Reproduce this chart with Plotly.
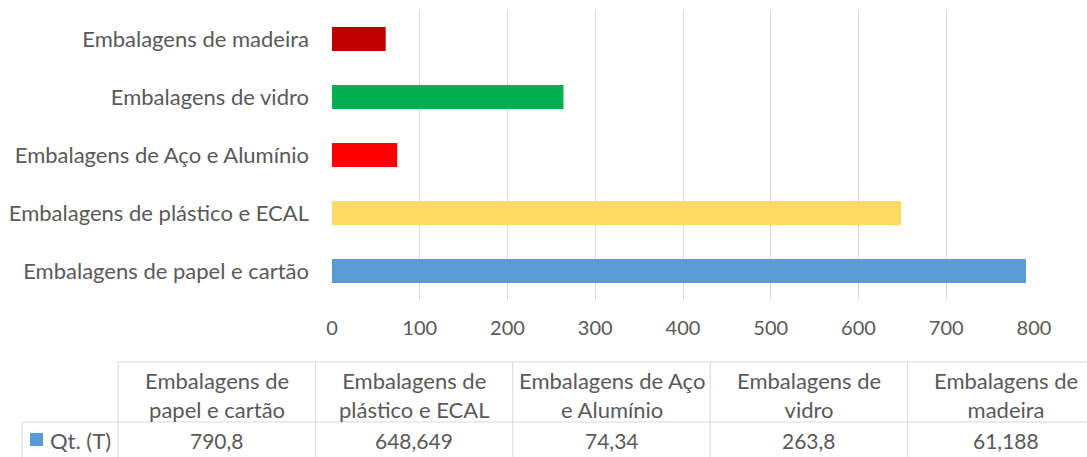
import plotly.graph_objects as go

# ---- data ----
categories = [
    "Embalagens de papel e cartão",
    "Embalagens de plástico e ECAL",
    "Embalagens de Aço e Alumínio",
    "Embalagens de vidro",
    "Embalagens de madeira",
]
values = [790.8, 648.649, 74.34, 263.8, 61.188]
value_labels = ["790,8", "648,649", "74,34", "263,8", "61,188"]
bar_colors = ["#5B9BD5", "#FFD966", "#FF0000", "#00B050", "#C00000"]
series_name = "Qt. (T)"
x_ticks = [0, 100, 200, 300, 400, 500, 600, 700, 800]

# ---- layout geometry (pixels) ----
W, H = 1087, 457
PL, PR, PT, PB = 332, 1034, 10, 300
FONT = "Lato"
TXT = "#595959"
GRID = "#D9D9D9"
FS_TEXT = 22
FS_NUM = 20
FS_TNUM = 21


def px(x):
    return (x - PL) / (PR - PL)


def py(y):
    return (PB - y) / (PB - PT)


def wrap(s, n=17):
    words, lines, cur = s.split(), [], ""
    for w in words:
        t = (cur + " " + w).strip()
        if len(t) <= n or not cur:
            cur = t
        else:
            lines.append(cur)
            cur = w
    lines.append(cur)
    return lines


fig = go.Figure(
    go.Bar(
        x=values,
        y=categories,
        orientation="h",
        marker=dict(color=bar_colors, line=dict(width=0)),
        width=0.41,
        name=series_name,
        showlegend=False,
    )
)

shapes = []
annotations = []

# data table
tbl_left = 118
col_w = 197.4
hdr_top = 362
row_mid = 422
row_bot = 470
key_left = 22

line = dict(color=GRID, width=1)


def hline(x0, x1, y):
    shapes.append(dict(type="line", xref="paper", yref="paper",
                       x0=px(x0), x1=px(x1), y0=py(y), y1=py(y), line=line))


def vline(x, y0, y1):
    shapes.append(dict(type="line", xref="paper", yref="paper",
                       x0=px(x), x1=px(x), y0=py(y0), y1=py(y1), line=line))


tbl_right = tbl_left + col_w * len(categories)
hline(tbl_left, tbl_right, hdr_top)
hline(key_left, tbl_right, row_mid)
vline(key_left, row_mid, row_bot)
for i in range(len(categories) + 1):
    vline(tbl_left + i * col_w, hdr_top, row_bot)

for i, (cat, lab) in enumerate(zip(categories, value_labels)):
    cx = tbl_left + (i + 0.5) * col_w
    annotations.append(dict(xref="paper", yref="paper", x=px(cx), y=py(395),
                            text="<br>".join(wrap(cat)), showarrow=False,
                            xanchor="center", yanchor="middle", align="center",
                            font=dict(family=FONT, size=FS_TEXT, color=TXT)))
    annotations.append(dict(xref="paper", yref="paper", x=px(cx), y=py(440),
                            text=lab, showarrow=False, xanchor="center",
                            yanchor="middle",
                            font=dict(family=FONT, size=FS_TNUM, color=TXT)))

# legend key
shapes.append(dict(type="rect", xref="paper", yref="paper",
                   x0=px(30), x1=px(43), y0=py(433), y1=py(446),
                   fillcolor=bar_colors[0], line=dict(width=0)))
annotations.append(dict(xref="paper", yref="paper", x=px(48), y=py(440),
                        text=series_name, showarrow=False, xanchor="left",
                        yanchor="middle",
                        font=dict(family=FONT, size=FS_TEXT, color=TXT)))

fig.update_layout(
    width=W,
    height=H,
    margin=dict(l=PL, r=W - PR, t=PT, b=H - PB, pad=0, autoexpand=False),
    paper_bgcolor="white",
    plot_bgcolor="white",
    font=dict(family=FONT, size=FS_TEXT, color=TXT),
    shapes=shapes,
    annotations=annotations,
    xaxis=dict(
        range=[0, 800],
        tickvals=x_ticks,
        showgrid=True,
        gridcolor=GRID,
        gridwidth=1,
        zeroline=False,
        showline=False,
        ticks="",
        ticklabelstandoff=14,
        tickfont=dict(family=FONT, size=FS_NUM, color=TXT),
        fixedrange=True,
        automargin=False,
    ),
    yaxis=dict(
        showgrid=False,
        zeroline=False,
        showline=False,
        ticks="",
        ticklabelstandoff=22,
        tickfont=dict(family=FONT, size=FS_TEXT, color=TXT),
        fixedrange=True,
        automargin=False,
    ),
)

fig.write_html(
    "out.html",
    config={"displayModeBar": False},
    post_script="document.body.style.margin='0px';document.body.style.overflow='hidden';",
)
